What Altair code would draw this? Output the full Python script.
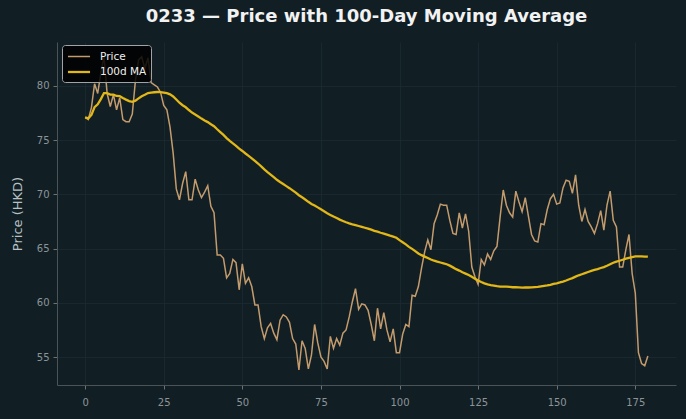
import altair as alt
import pandas as pd

# Daily closing prices (HKD), trading-day index 0..179
price = [
    77.1, 76.9, 78.0, 80.2, 79.3, 81.2, 82.7, 79.3, 78.1, 79.2,
    77.8, 78.9, 76.9, 76.7, 76.7, 77.4, 80.5, 82.4, 82.7, 81.6,
    82.6, 80.3, 80.1, 79.9, 79.4, 78.2, 77.8, 76.2, 73.8, 70.5,
    69.5, 71.0, 72.1, 69.5, 69.5, 71.4, 70.4, 69.7, 70.2, 70.8,
    68.9, 68.3, 64.4, 64.4, 64.1, 62.3, 62.7, 64.0, 63.7, 61.2,
    63.6, 61.8, 62.3, 61.5, 59.8, 59.8, 57.8, 56.7, 57.7, 58.1,
    57.2, 56.6, 58.4, 58.9, 58.7, 58.2, 56.7, 56.2, 53.8, 56.5,
    55.8, 53.9, 55.2, 58.0, 56.3, 55.0, 54.6, 53.9, 56.9, 55.8,
    56.7, 56.1, 57.2, 57.5, 58.7, 60.1, 61.3, 59.4, 59.9, 59.8,
    59.3, 58.0, 56.5, 59.5, 57.6, 59.1, 57.5, 56.4, 57.6, 55.4,
    55.4, 57.1, 58.0, 57.8, 60.7, 60.6, 61.5, 63.2, 64.7, 65.8,
    64.9, 67.3, 68.1, 69.1, 69.0, 69.0, 67.6, 66.4, 66.3, 68.3,
    66.9, 68.2, 66.6, 63.3, 62.4, 61.7, 64.0, 63.5, 64.5, 64.0,
    64.8, 65.2, 67.9, 70.4, 69.0, 68.3, 67.9, 70.3, 69.3, 68.4,
    69.7, 68.0, 66.3, 65.7, 65.6, 67.3, 67.2, 68.6, 69.6, 70.0,
    69.1, 69.2, 70.6, 71.3, 71.2, 70.1, 71.8, 69.0, 67.5, 68.6,
    67.5, 67.0, 66.4, 67.3, 68.5, 66.7, 69.0, 70.3, 67.6, 67.0,
    63.3, 63.3, 64.9, 66.3, 62.7, 60.9, 55.4, 54.4, 54.2, 55.1,
]
series_names = ["Price", "100d MA"]
series_colors = ["#c49b6c", "#e2b718"]
x_ticks = [0, 25, 50, 75, 100, 125, 150, 175]
y_ticks = [55, 60, 65, 70, 75, 80]

BG = "#111f25"
FONT = "DejaVu Sans"

day = list(range(len(price)))
s = pd.Series(price)
ma = s.rolling(100, min_periods=1).mean()

df = pd.concat([
    pd.DataFrame({"day": day, "value": price, "series": "Price"}),
    pd.DataFrame({"day": day, "value": ma.round(3), "series": "100d MA"}),
])

x = alt.X("day:Q",
          scale=alt.Scale(domain=[-8.95, 187.95], nice=False, zero=False),
          axis=alt.Axis(values=x_ticks, title=None, format="d", labelPadding=8))
y = alt.Y("value:Q",
          scale=alt.Scale(domain=[52.42, 84.05], nice=False, zero=False),
          axis=alt.Axis(values=y_ticks, title="Price (HKD)", format="d"))

# wide horizontal dash as the legend swatch, compact rows
color = alt.Color("series:N",
                  scale=alt.Scale(domain=series_names, range=series_colors),
                  legend=alt.Legend(title=None, orient="none",
                                    legendX=5, legendY=3,
                                    symbolType="M-1.7,0H1.7", symbolSize=169,
                                    symbolStrokeWidth=2, symbolOffset=5,
                                    labelColor="#f0f0f0", labelFontSize=10.5,
                                    labelFont=FONT, labelOffset=13,
                                    rowPadding=2,
                                    fillColor="rgba(0,0,0,0.85)",
                                    strokeColor="#a0a4a6", cornerRadius=3,
                                    padding=4))
stroke_w = alt.StrokeWidth("series:N",
                           scale=alt.Scale(domain=series_names, range=[1.5, 2.3]),
                           legend=None)

chart = alt.Chart(df).mark_line(interpolate="linear").encode(
    x=x, y=y, color=color, strokeWidth=stroke_w,
    order=alt.Order("day:Q"),
).properties(
    width=619, height=343,
    background=BG,
    padding={"left": 57, "top": 42, "right": 10, "bottom": 34},
    autosize=alt.AutoSizeParams(type="none"),
    title=alt.Title("0233 — Price with 100-Day Moving Average",
                    font=FONT, fontSize=18, fontWeight="bold",
                    color="#f2f2f2", anchor="middle", offset=16),
).configure_view(
    stroke=None, fill=BG,
).configure_axis(
    labelFont=FONT, labelFontSize=10, labelColor="#8c9498",
    titleFont=FONT, titleFontSize=13, titleColor="#b8c0c4",
    titleFontWeight="normal",
    domainColor="#4a5458", tickColor="#6a7276", tickSize=4,
    gridColor="#1b2b31", gridWidth=0.8,
    labelPadding=4,
).configure_axisY(
    titlePadding=12,
)

chart.save("out.html", embed_options={"renderer": "svg", "actions": False})
